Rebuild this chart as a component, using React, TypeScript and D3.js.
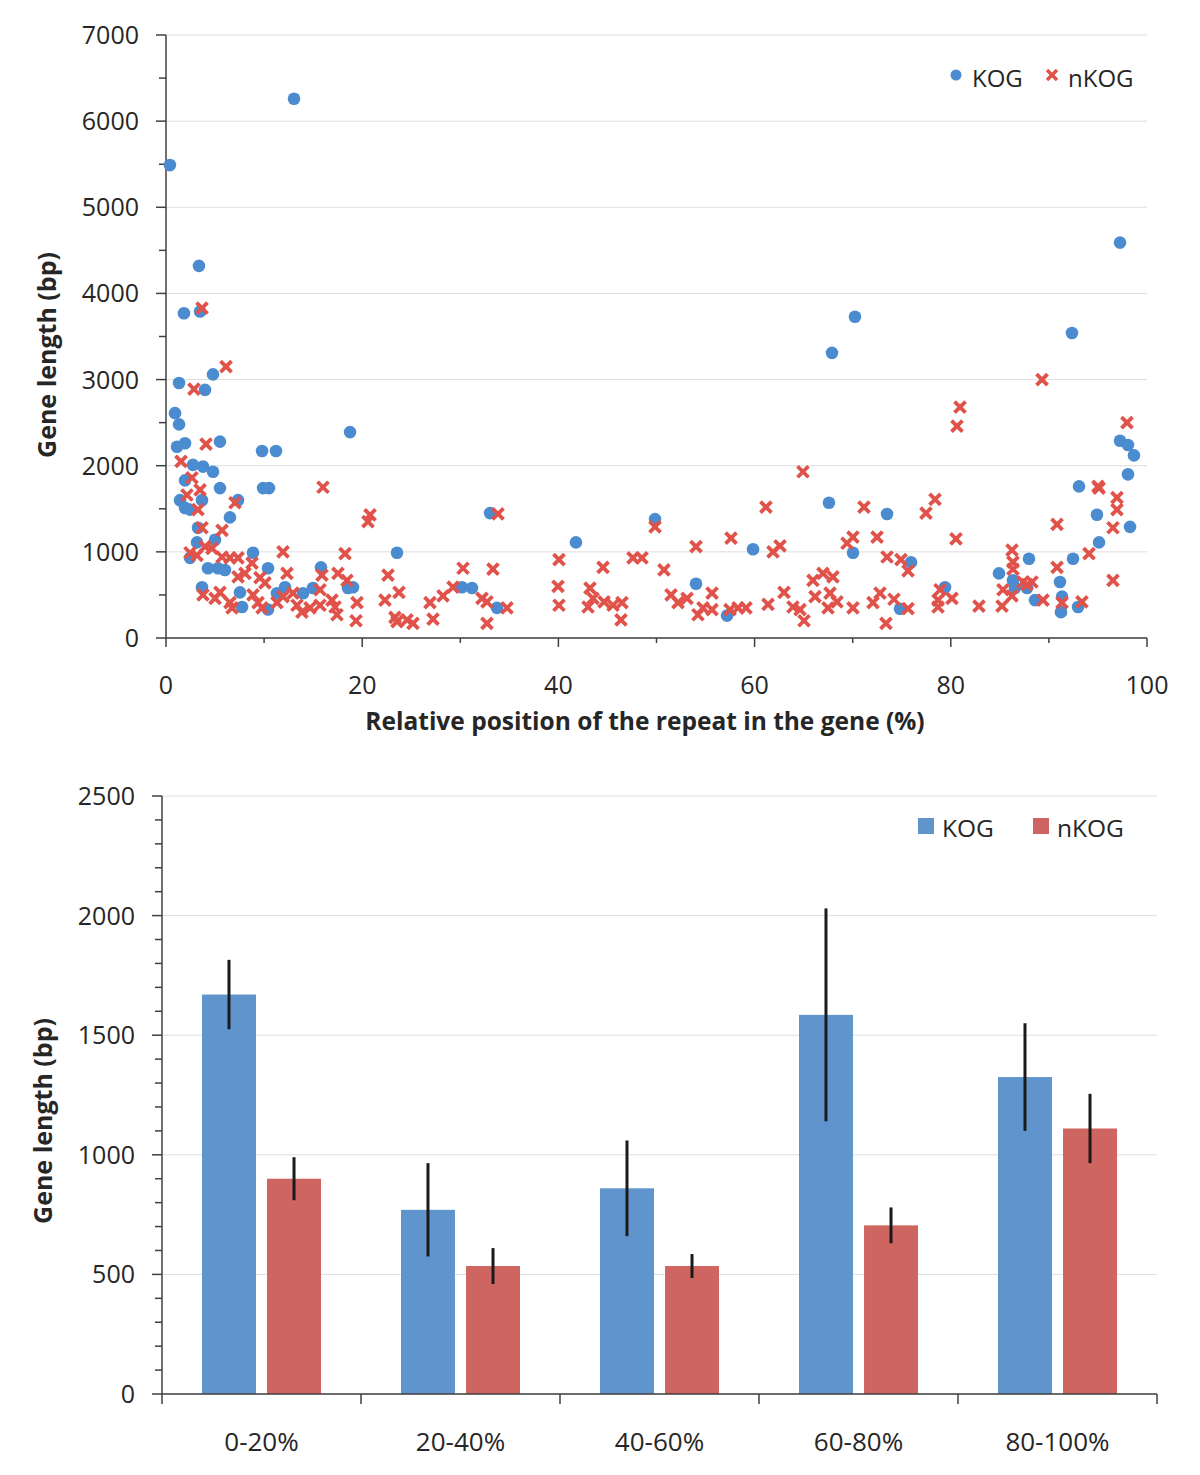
import React from "react";
import * as d3 from "d3";

// ---------- Scatter data: [relative position %, gene length bp] ----------
const kogPoints: [number, number][] = [
  [0.4, 5490], [13.05, 6260], [97.25, 4590], [3.36, 4320], [1.83, 3770], [3.47, 3790],
  [4.79, 3060], [1.33, 2960], [3.98, 2880], [0.92, 2610], [1.33, 2480], [1.12, 2220],
  [1.94, 2260], [5.5, 2280], [9.79, 2170], [11.21, 2170], [18.76, 2390], [9.89, 1740],
  [10.5, 1740], [2.75, 2010], [3.77, 1990], [4.79, 1930], [1.94, 1830], [5.5, 1740],
  [1.43, 1600], [1.94, 1510], [3.67, 1600], [2.45, 1490], [7.34, 1600], [6.52, 1400],
  [3.26, 1280], [3.16, 1110], [5.0, 1140], [2.45, 930], [8.87, 990], [4.28, 810],
  [5.3, 810], [6.01, 790], [10.4, 810], [3.67, 590], [7.54, 530], [7.75, 360],
  [10.4, 330], [23.55, 990], [12.13, 590], [11.31, 520], [13.97, 520], [15.8, 820],
  [14.98, 580], [18.55, 580], [19.06, 590], [33.03, 1450], [30.17, 590], [31.19, 580],
  [33.74, 350], [41.79, 1110], [49.85, 1380], [54.03, 630], [57.19, 260], [59.84, 1030],
  [67.58, 1570], [70.03, 990], [73.5, 1440], [67.89, 3310], [70.23, 3730], [75.94, 880],
  [74.82, 340], [79.41, 590], [84.91, 750], [86.34, 670], [86.54, 580], [87.77, 580],
  [87.97, 920], [88.58, 440], [91.13, 650], [91.34, 480], [91.23, 300], [92.97, 360],
  [92.46, 920], [93.07, 1760], [94.9, 1430], [95.11, 1110], [97.25, 2290], [98.06, 2240],
  [98.67, 2120], [98.06, 1900], [98.27, 1290], [92.35, 3540],
];

const nkogPoints: [number, number][] = [
  [3.67, 3830], [6.12, 3150], [2.85, 2890], [4.08, 2250], [1.53, 2050], [2.65, 1860],
  [3.47, 1720], [2.14, 1660], [3.26, 1490], [7.03, 1570], [3.67, 1280], [5.71, 1250],
  [2.45, 990], [3.16, 960], [3.98, 1060], [4.69, 1040], [5.71, 940], [6.52, 930],
  [7.34, 930], [8.77, 870], [7.34, 710], [8.05, 750], [9.58, 700], [10.09, 640],
  [3.77, 500], [5.0, 460], [5.5, 530], [6.52, 410], [6.73, 350], [8.87, 500],
  [9.38, 410], [9.79, 350], [11.31, 410], [16.0, 1750], [20.8, 1430], [20.59, 1350],
  [11.93, 1000], [18.25, 980], [12.33, 750], [15.9, 730], [17.53, 750], [18.45, 670],
  [22.63, 730], [23.75, 530], [22.32, 440], [11.93, 480], [12.95, 520], [13.35, 380],
  [13.86, 300], [14.68, 350], [15.7, 560], [15.7, 380], [16.92, 440], [17.23, 360],
  [17.43, 270], [19.47, 410], [19.37, 200], [23.34, 240], [23.55, 190], [24.57, 210],
  [25.18, 170], [33.84, 1440], [26.91, 410], [27.22, 220], [28.24, 490], [29.26, 590],
  [30.28, 810], [33.33, 800], [32.21, 460], [32.72, 420], [34.76, 350], [32.72, 170],
  [40.06, 910], [39.96, 600], [40.06, 380], [43.22, 580], [43.02, 360], [43.53, 460],
  [44.55, 820], [44.65, 420], [45.57, 380], [46.48, 410], [46.38, 210], [47.6, 930],
  [48.52, 930], [49.85, 1290], [50.76, 790], [54.03, 1060], [57.6, 1160], [61.16, 1520],
  [64.93, 1930], [71.15, 1520], [61.88, 1000], [62.59, 1070], [69.42, 1100], [70.03, 1170],
  [72.48, 1170], [73.5, 940], [51.48, 500], [52.19, 410], [53.11, 460], [54.23, 270],
  [54.74, 350], [55.66, 520], [55.66, 330], [57.49, 330], [58.31, 350], [59.12, 350],
  [61.37, 390], [63.0, 530], [63.91, 360], [64.63, 330], [65.04, 200], [65.95, 670],
  [66.97, 750], [67.99, 710], [66.16, 480], [67.69, 520], [68.4, 420], [67.48, 350],
  [70.03, 350], [72.07, 410], [72.78, 520], [73.39, 170], [89.3, 3000], [80.94, 2680],
  [80.63, 2460], [78.39, 1610], [77.47, 1450], [80.53, 1150], [74.92, 910], [75.64, 780],
  [74.21, 450], [75.64, 340], [78.9, 560], [78.7, 440], [80.12, 460], [78.7, 360],
  [82.87, 370], [85.22, 370], [85.32, 560], [86.24, 1020], [86.34, 880], [86.34, 800],
  [86.24, 490], [87.36, 650], [88.28, 650], [87.77, 620], [89.4, 440], [90.83, 820],
  [90.83, 1320], [91.34, 410], [93.37, 420], [94.09, 980], [95.01, 1760], [95.11, 1740],
  [96.53, 670], [96.53, 1280], [96.94, 1630], [96.94, 1490], [97.96, 2500],
];

const scatterYTicks = [0, 1000, 2000, 3000, 4000, 5000, 6000, 7000];
const scatterXTicks = [0, 20, 40, 60, 80, 100];

// ---------- Bar data ----------
const categories = ["0-20%", "20-40%", "40-60%", "60-80%", "80-100%"];
const seriesNames = ["KOG", "nKOG"];
const kogMeans = [1670, 770, 860, 1585, 1325];
const kogErr = [145, 195, 200, 445, 225];
const nkogMeans = [900, 535, 535, 705, 1110];
const nkogErr = [90, 75, 50, 75, 145];
const barYTicks = [0, 500, 1000, 1500, 2000, 2500];

const FONT = "'Open Sans', 'DejaVu Sans', sans-serif";
const TEXT = "#262626";
const AXIS = "#404040";
const GRID = "#dedede";
const BLUE_PT = "#4b8cd0";
const RED_PT = "#e0524a";
const BLUE_BAR = "#5f95cc";
const RED_BAR = "#cf6560";

function XMark({ x, y, s, w }: { x: number; y: number; s: number; w: number }) {
  return (
    <g stroke={RED_PT} strokeWidth={w} strokeLinecap="butt">
      <line x1={x - s} y1={y - s} x2={x + s} y2={y + s} />
      <line x1={x - s} y1={y + s} x2={x + s} y2={y - s} />
    </g>
  );
}

export default function App() {
  // top scatter scales
  const xS = d3.scaleLinear().domain([0, 100]).range([166, 1147]);
  const yS = d3.scaleLinear().domain([0, 7000]).range([638, 35]);
  const yMinor = d3.range(500, 7000, 1000);
  const xMinor = d3.range(10, 100, 20);

  // bottom bar scales
  const xB = d3.scaleBand<string>().domain(categories).range([162, 1157]);
  const xSer = d3
    .scaleBand<string>()
    .domain(seriesNames)
    .range([0, xB.bandwidth()])
    .paddingInner(0.17)
    .paddingOuter(0.615);
  const yB = d3.scaleLinear().domain([0, 2500]).range([1394, 796]);
  const yBMinor = d3.range(0, 2501, 100).filter((v) => v % 500 !== 0);
  const bounds = d3.range(categories.length + 1).map((i) => 162 + i * xB.bandwidth());

  const series = [
    { name: "KOG", means: kogMeans, errs: kogErr, color: BLUE_BAR },
    { name: "nKOG", means: nkogMeans, errs: nkogErr, color: RED_BAR },
  ];

  return (
    <svg
      width={1200}
      height={1475}
      style={{ position: "absolute", left: 0, top: 0, background: "#fff" }}
      fontFamily={FONT}
    >
      <rect width={1200} height={1475} fill="#fff" />
      {/* ===== Top scatter ===== */}
      {scatterYTicks.map((t) => (
        <line key={"g" + t} x1={166} x2={1147} y1={yS(t)} y2={yS(t)} stroke={GRID} strokeWidth={1} />
      ))}
      <line x1={166} x2={166} y1={yS(7000)} y2={yS(0)} stroke={AXIS} strokeWidth={1.5} />
      <line x1={166} x2={1147} y1={yS(0)} y2={yS(0)} stroke={AXIS} strokeWidth={1.5} />
      {scatterYTicks.map((t) => (
        <g key={"yt" + t}>
          <line x1={156} x2={166} y1={yS(t)} y2={yS(t)} stroke={AXIS} strokeWidth={1.5} />
          <text x={139} y={yS(t)} dy="0.36em" textAnchor="end" fontSize={25} fill={TEXT}>
            {t}
          </text>
        </g>
      ))}
      {yMinor.map((t) => (
        <line key={"ym" + t} x1={159} x2={166} y1={yS(t)} y2={yS(t)} stroke={AXIS} strokeWidth={1.5} />
      ))}
      {scatterXTicks.map((t) => (
        <g key={"xt" + t}>
          <line x1={xS(t)} x2={xS(t)} y1={yS(0)} y2={yS(0) + 9} stroke={AXIS} strokeWidth={1.5} />
          <text x={xS(t)} y={685} dy="0.36em" textAnchor="middle" fontSize={25} fill={TEXT}>
            {t}
          </text>
        </g>
      ))}
      {xMinor.map((t) => (
        <line key={"xm" + t} x1={xS(t)} x2={xS(t)} y1={yS(0)} y2={yS(0) + 5} stroke={AXIS} strokeWidth={1.5} />
      ))}
      <text x={645} y={721} dy="0.36em" textAnchor="middle" fontSize={24.5} fontWeight="bold" fill={TEXT}>
        Relative position of the repeat in the gene (%)
      </text>
      <text
        transform={`translate(47,355) rotate(-90)`}
        dy="0.36em"
        textAnchor="middle"
        fontSize={25}
        fontWeight="bold"
        fill={TEXT}
      >
        Gene length (bp)
      </text>
      {kogPoints.map(([x, y], i) => (
        <circle key={"k" + i} cx={xS(x)} cy={yS(y)} r={6.3} fill={BLUE_PT} />
      ))}
      {nkogPoints.map(([x, y], i) => (
        <XMark key={"n" + i} x={xS(x)} y={yS(y)} s={5.5} w={3.8} />
      ))}
      {/* top legend */}
      <circle cx={956} cy={75} r={5.5} fill={BLUE_PT} />
      <text x={972} y={78} dy="0.36em" fontSize={24} fill={TEXT}>KOG</text>
      <XMark x={1052} y={75} s={5} w={3.4} />
      <text x={1068} y={78} dy="0.36em" fontSize={24} fill={TEXT}>nKOG</text>

      {/* ===== Bottom bars ===== */}
      {barYTicks.map((t) => (
        <line key={"bg" + t} x1={162} x2={1157} y1={yB(t)} y2={yB(t)} stroke={GRID} strokeWidth={1} />
      ))}
      {categories.map((c, ci) =>
        series.map((s) => {
          const x0 = (xB(c) as number) + (xSer(s.name) as number);
          const w = xSer.bandwidth();
          const v = s.means[ci];
          const e = s.errs[ci];
          return (
            <g key={c + s.name}>
              <rect x={x0} y={yB(v)} width={w} height={yB(0) - yB(v)} fill={s.color} />
              <line
                x1={x0 + w / 2}
                x2={x0 + w / 2}
                y1={yB(v - e)}
                y2={yB(v + e)}
                stroke="#1a1a1a"
                strokeWidth={3}
              />
            </g>
          );
        })
      )}
      <line x1={162} x2={162} y1={yB(2500)} y2={yB(0)} stroke={AXIS} strokeWidth={1.5} />
      <line x1={162} x2={1157} y1={yB(0)} y2={yB(0)} stroke={AXIS} strokeWidth={1.5} />
      {barYTicks.map((t) => (
        <g key={"byt" + t}>
          <line x1={152} x2={162} y1={yB(t)} y2={yB(t)} stroke={AXIS} strokeWidth={1.5} />
          <text x={135} y={yB(t)} dy="0.36em" textAnchor="end" fontSize={25} fill={TEXT}>
            {t}
          </text>
        </g>
      ))}
      {yBMinor.map((t) => (
        <line key={"bym" + t} x1={155} x2={162} y1={yB(t)} y2={yB(t)} stroke={AXIS} strokeWidth={1.5} />
      ))}
      {bounds.map((b, i) => (
        <line key={"bx" + i} x1={b} x2={b} y1={yB(0)} y2={yB(0) + 10} stroke={AXIS} strokeWidth={1.5} />
      ))}
      {categories.map((c) => (
        <text
          key={"cl" + c}
          x={(xB(c) as number) + xB.bandwidth() / 2}
          y={1442}
          dy="0.36em"
          textAnchor="middle"
          fontSize={26}
          fill={TEXT}
        >
          {c}
        </text>
      ))}
      <text
        transform={`translate(43,1121) rotate(-90)`}
        dy="0.36em"
        textAnchor="middle"
        fontSize={25}
        fontWeight="bold"
        fill={TEXT}
      >
        Gene length (bp)
      </text>
      {/* bottom legend */}
      <rect x={918} y={818} width={16} height={16} fill={BLUE_BAR} />
      <text x={942} y={828} dy="0.36em" fontSize={24.5} fill={TEXT}>KOG</text>
      <rect x={1033} y={818} width={16} height={16} fill={RED_BAR} />
      <text x={1057} y={828} dy="0.36em" fontSize={24.5} fill={TEXT}>nKOG</text>
    </svg>
  );
}
